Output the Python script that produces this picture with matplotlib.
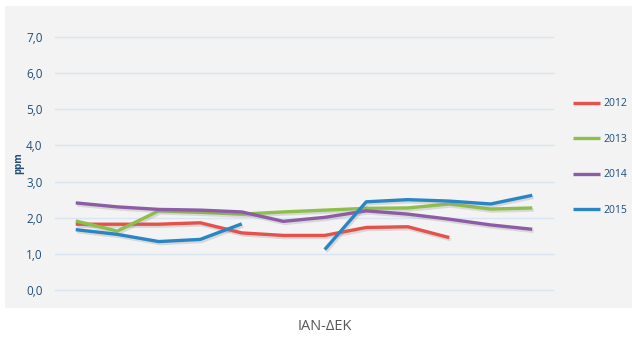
import matplotlib
matplotlib.use("Agg")
import matplotlib.pyplot as plt
import matplotlib.patheffects as pe
from matplotlib.patches import Rectangle
import numpy as np

months = ["ΙΑΝ", "ΦΕΒ", "ΜΑΡ", "ΑΠΡ", "ΜΑΪ", "ΙΟΥΝ", "ΙΟΥΛ", "ΑΥΓ", "ΣΕΠ", "ΟΚΤ", "ΝΟΕ", "ΔΕΚ"]
nan = np.nan
s2012 = [1.82, 1.82, 1.82, 1.86, 1.58, 1.51, 1.51, 1.73, 1.75, 1.45, nan, nan]
s2013 = [1.91, 1.63, 2.19, 2.15, 2.10, 2.16, 2.21, 2.26, 2.27, 2.38, 2.24, 2.27]
s2014 = [2.41, 2.30, 2.23, 2.21, 2.16, 1.90, 2.01, 2.19, 2.10, 1.96, 1.80, 1.68]
s2015 = [1.67, 1.54, 1.34, 1.40, 1.83, nan, 1.12, 2.44, 2.50, 2.46, 2.38, 2.62]
series_names = ["2012", "2013", "2014", "2015"]
series = [s2012, s2013, s2014, s2015]
colors = ["#e5514b", "#8dbf4a", "#8c5ca6", "#2a85c5"]
yticks = [0, 1, 2, 3, 4, 5, 6, 7]
ytick_labels = ["0,0", "1,0", "2,0", "3,0", "4,0", "5,0", "6,0", "7,0"]

W, H = 632, 339
fig = plt.figure(figsize=(W / 100, H / 100), dpi=100)
fig.patch.set_facecolor("white")
fig.patches.append(Rectangle((5 / W, 1 - 308 / H), 1 - 5 / W, (308 - 6) / H,
                             transform=fig.transFigure, facecolor="#f3f3f3",
                             edgecolor="none", zorder=-5))

ax = fig.add_axes([55 / W, 1 - 290 / H, (553 - 55) / W, (290 - 37) / H])
ax.set_facecolor("none")
x = np.arange(len(months))
shadow = [pe.SimpleLineShadow(offset=(1, -1.5), shadow_color="#888888", alpha=0.25), pe.Normal()]
lines = []
for name, vals, c in zip(series_names, series, colors):
    ln, = ax.plot(x, vals, color=c, lw=2.4, label=name, solid_capstyle="butt",
                  path_effects=shadow, zorder=3)
    lines.append(ln)

ax.set_xlim(-0.5, len(months) - 0.5)
ax.set_ylim(0, 7)
ax.set_yticks(yticks)
ax.set_yticklabels(ytick_labels)
ax.set_xticks([])
ax.grid(axis="y", color="#d9e6f2", lw=1.0, zorder=0)
for gl in ax.get_ygridlines():
    gl.set_clip_on(False)
for s in ax.spines.values():
    s.set_visible(False)
ax.tick_params(axis="y", length=0, pad=9, labelsize=8.5, labelcolor="#1f4e79")
for lab in ax.get_yticklabels():
    lab.set_family("Open Sans")

fig.text(19 / W, 1 - 163 / H, "ppm", rotation=90, ha="center", va="center",
         fontsize=7, fontweight="bold", color="#1f4e79", family="Open Sans")
fig.text(325 / W, 1 - 326 / H, "ΙΑΝ-ΔΕΚ", ha="center", va="center",
         fontsize=10.5, color="#595959", family="Open Sans")

leg = fig.legend(handles=lines, labels=series_names, loc="upper left",
                 bbox_to_anchor=(564 / W, 1 - 89 / H), frameon=False,
                 handlelength=2.6, handletextpad=0.3, labelspacing=2.35,
                 prop={"family": "Open Sans", "size": 7.5})
for t in leg.get_texts():
    t.set_color("#1f4e79")
for h in leg.legend_handles:
    h.set_path_effects([])

fig.savefig("out.png", dpi=100, facecolor="white")
